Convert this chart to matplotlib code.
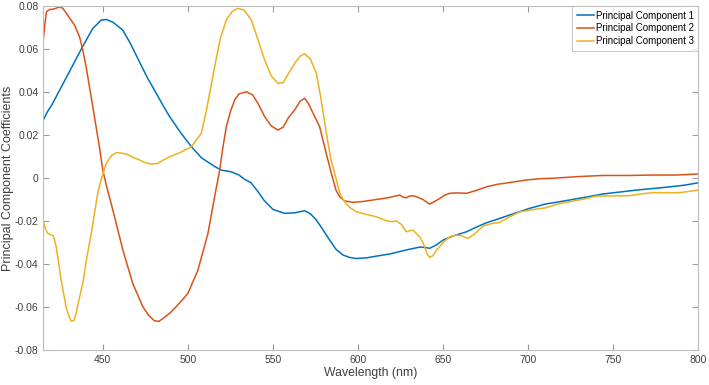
import matplotlib.pyplot as plt
from matplotlib.ticker import FixedLocator

plt.rcParams["font.family"] = ["Liberation Sans", "DejaVu Sans"]

# values (wavelength in nm, coefficient)
pc1_x = [415, 417.5, 420, 426, 432, 438, 444, 449, 452, 456, 461.6, 466, 471.6, 476,
         481.4, 486, 489, 495, 502, 508, 515.7, 519.6, 525.5, 530, 533.3, 537, 541,
         545, 550, 556.8, 562.7, 568.6, 572, 575.5, 579, 583.3, 587, 591.2, 595, 599,
         605, 610.8, 618.6, 626.4, 630.3, 636.2, 640, 642, 646, 650, 656, 663.7, 669,
         675.4, 682, 689, 695, 700.8, 710, 718.5, 724.4, 735, 744, 755, 763.6, 773,
         783.3, 792, 800]
pc1_y = [0.027, 0.031, 0.034, 0.043, 0.052, 0.061, 0.0695, 0.0735, 0.0738, 0.0725,
         0.069, 0.063, 0.054, 0.047, 0.0395, 0.033, 0.029, 0.022, 0.0147, 0.0095,
         0.0055, 0.0038, 0.003, 0.0015, -0.0005, -0.002, -0.006, -0.0105, -0.0145,
         -0.0163, -0.0161, -0.0151, -0.0165, -0.0194, -0.0235, -0.0287, -0.033,
         -0.0357, -0.0368, -0.0373, -0.037, -0.0362, -0.0352, -0.0337, -0.033,
         -0.032, -0.0322, -0.0326, -0.031, -0.0287, -0.0268, -0.0249, -0.0229,
         -0.0207, -0.019, -0.0171, -0.0155, -0.014, -0.012, -0.0109, -0.0101,
         -0.0086, -0.0073, -0.0063, -0.0055, -0.0048, -0.004, -0.0032, -0.0021]

pc2_x = [415, 416, 416.9, 418.8, 420, 421.7, 424.6, 426.5, 428.5, 430.5, 433.4, 436.3,
         438, 440.2, 444.1, 448, 450, 452, 455.9, 461.8, 467.6, 473.5, 477, 480.4,
         483, 485.3, 489.2, 493, 497, 500, 505.9, 511.8, 515.7, 518.7, 520.5, 522.6,
         525, 527.5, 530, 534.4, 538, 541.2, 545, 549, 553, 556, 559, 562.7, 566,
         568.6, 571, 574, 577.4, 581, 584.3, 587, 589.2, 592, 597, 603, 608.8, 614,
         618.6, 624.5, 626.5, 628.4, 630.3, 632.3, 634.3, 638, 642, 645, 648, 651,
         653.9, 658, 663.7, 669, 675.4, 682, 689, 698.9, 707, 714.6, 730, 744, 760,
         773.4, 787, 800]
pc2_y = [0.0643, 0.072, 0.0774, 0.0785, 0.0785, 0.0788, 0.0797, 0.079, 0.0768, 0.0744,
         0.0712, 0.0658, 0.0605, 0.0518, 0.0333, 0.0146, 0.0038, -0.003, -0.0148,
         -0.0334, -0.0489, -0.0597, -0.0638, -0.0663, -0.0665, -0.0652, -0.0628,
         -0.0598, -0.0563, -0.0535, -0.0427, -0.0256, -0.0086, 0.0038, 0.014, 0.024,
         0.031, 0.0364, 0.0392, 0.0402, 0.0388, 0.0348, 0.0288, 0.0243, 0.0224,
         0.0238, 0.028, 0.0317, 0.0358, 0.0372, 0.0345, 0.0295, 0.024, 0.0125,
         0.0023, -0.0055, -0.0086, -0.0105, -0.0112, -0.0108, -0.0101, -0.0095,
         -0.0089, -0.0078, -0.0088, -0.0091, -0.0083, -0.0081, -0.0086, -0.0098,
         -0.012, -0.0108, -0.0094, -0.0078, -0.007, -0.0068, -0.007, -0.0058,
         -0.004, -0.0028, -0.002, -0.0008, -0.0002, 0.0, 0.0008, 0.0013, 0.0013,
         0.0015, 0.0015, 0.002]

pc3_x = [415, 416.5, 417.7, 419.7, 421, 422.6, 424, 425.5, 428.4, 430, 431.4, 433,
         434.3, 436, 438.2, 440.5, 443.2, 447, 449, 452, 455, 457.9, 460.5, 463.8,
         467.5, 471.6, 475, 478.5, 482, 486.3, 489.2, 495, 502, 507.9, 511, 515.7,
         519, 522.6, 526, 529.4, 533, 537.3, 541, 545.1, 549, 553, 556, 559, 562.7,
         566, 568.6, 572, 575.5, 578, 581.4, 584, 587.3, 589.5, 592.2, 595, 599, 605,
         610.8, 616.7, 620, 622.5, 625.5, 628.4, 630.3, 632.3, 634.2, 636.2, 638.5,
         640.5, 642, 644, 646, 648, 650, 653.9, 657.8, 661, 664.6, 668, 673.5, 679,
         683.3, 689, 695, 700, 704.8, 710, 718.5, 724.4, 732, 740, 750, 759.6,
         766, 773.4, 780, 789, 800]
pc3_y = [-0.0198, -0.024, -0.0256, -0.0264, -0.0268, -0.0318, -0.039, -0.0473,
         -0.0597, -0.064, -0.0664, -0.0662, -0.0628, -0.0565, -0.0489, -0.0375,
         -0.0256, -0.007, -0.0008, 0.0069, 0.0105, 0.0119, 0.0117, 0.0113, 0.0098,
         0.0085, 0.0072, 0.0066, 0.0068, 0.0088, 0.01, 0.0118, 0.0146, 0.0209,
         0.032, 0.0518, 0.0648, 0.0736, 0.0775, 0.079, 0.0782, 0.0736, 0.0648,
         0.055, 0.0475, 0.0441, 0.0444, 0.0485, 0.0534, 0.0568, 0.0578, 0.0555,
         0.0488, 0.038, 0.0209, 0.009, -0.0008, -0.0075, -0.0109, -0.0135, -0.0156,
         -0.0168, -0.0179, -0.0198, -0.0202, -0.0198, -0.0215, -0.0249, -0.0244,
         -0.0241, -0.0256, -0.0272, -0.0305, -0.035, -0.0368, -0.036, -0.0335,
         -0.0318, -0.0298, -0.0272, -0.0264, -0.0268, -0.028, -0.0262, -0.0222,
         -0.021, -0.0205, -0.018, -0.0156, -0.015, -0.0143, -0.0138, -0.0117,
         -0.0109, -0.0098, -0.0083, -0.0082, -0.0081, -0.0073, -0.0067, -0.0067,
         -0.0067, -0.0055]

x_ticks = [450, 500, 550, 600, 650, 700, 750, 800]
y_ticks = [-0.08, -0.06, -0.04, -0.02, 0, 0.02, 0.04, 0.06, 0.08]
y_tick_labels = ["-0.08", "-0.06", "-0.04", "-0.02", "0", "0.02", "0.04", "0.06", "0.08"]

fig = plt.figure(figsize=(7.09, 3.85), dpi=100)
ax = fig.add_axes([0.061, 0.09, 0.924, 0.894])

ax.plot(pc1_x, pc1_y, color="#0072BD", linewidth=1.1, label="Principal Component 1")
ax.plot(pc2_x, pc2_y, color="#D95319", linewidth=1.1, label="Principal Component 2")
ax.plot(pc3_x, pc3_y, color="#EDB120", linewidth=1.1, label="Principal Component 3")

ax.set_xlim(415, 800)
ax.set_ylim(-0.08, 0.08)
ax.xaxis.set_major_locator(FixedLocator(x_ticks))
ax.set_yticks(y_ticks)
ax.set_yticklabels(y_tick_labels)
ax.tick_params(direction="in", length=4, width=0.8, color="#9a9a9a",
               labelcolor="#404040", labelsize=7.5, top=True, right=True)
for s in ax.spines.values():
    s.set_color("#bdbdbd")
    s.set_linewidth(0.8)

ax.set_xlabel("Wavelength (nm)", fontsize=8.8, color="#404040", labelpad=1)
ax.set_ylabel("Principal Component Coefficients", fontsize=9, color="#404040")
ax.yaxis.set_label_coords(-0.044, 0.5)

leg = ax.legend(loc="upper right", fontsize=7, frameon=True, fancybox=False,
                borderaxespad=0, handlelength=1.75, handletextpad=0.25,
                borderpad=0.45, labelspacing=0.3)
leg.get_frame().set_edgecolor("#bdbdbd")
leg.get_frame().set_linewidth(0.8)

fig.savefig("out.png", dpi=100)
